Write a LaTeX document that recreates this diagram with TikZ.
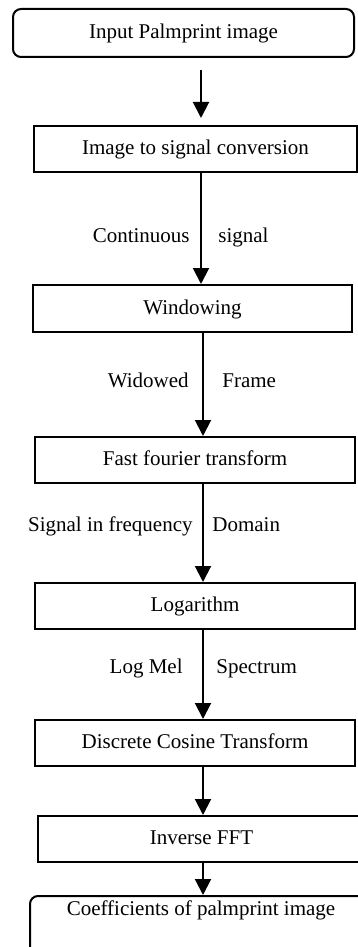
\documentclass[tikz,border=0pt]{standalone}
\usepackage{fontspec}
\setmainfont{Liberation Serif}
\usetikzlibrary{arrows.meta}

\begin{document}
\begin{tikzpicture}[x=0.5pt,y=-0.5pt,font=\fontsize{10.5}{12.6}\selectfont,
        box/.style={draw, line width=1pt, minimum height=23pt, text height=1.6ex, text depth=.4ex, inner sep=0pt},
        rbox/.style={box, rounded corners=4pt},
        flow/.style={line width=1pt, -{Triangle[width=8pt,length=8pt]}},
        lab/.style={inner sep=0pt}]
        \useasboundingbox (0,0) rectangle (358,947);
        \clip (0,0) rectangle (358,947);
        \coordinate (ax1) at (201,0);
        \coordinate (ax2) at (203,0);
        % boxes, top to bottom
        \node[rbox, minimum width=170.5pt, minimum height=24pt] (input) at (183.5,33) {Input Palmprint image};
        \node[box, minimum width=161.5pt] (conv) at (195.5,149) {Image to signal conversion};
        \node[box, minimum width=159.5pt, minimum height=23.5pt] (win) at (192.5,308.5) {Windowing};
        \node[box, minimum width=160pt] (fft) at (195,460) {Fast fourier transform};
        \node[box, minimum width=160pt] (log) at (195,606) {Logarithm};
        \node[box, minimum width=160pt] (dct) at (195,743) {Discrete Cosine Transform};
        \node[box, minimum width=163.5pt] (ifft) at (201.5,839) {Inverse FFT};
        \node[rbox, anchor=north, minimum width=171pt, minimum height=40pt] (coeff) at (201,895) {};
        \node (coefftxt) at (201,910) {Coefficients of palmprint image};
        % arrows
        \draw[flow, shorten <=6pt, shorten >=3.5pt] (input.south -| ax1) -- (conv.north -| ax1);
        \draw[flow] (conv.south -| ax1) -- (win.north -| ax1);
        \draw[flow] (win.south -| ax2) -- (fft.north -| ax2);
        \draw[flow] (fft.south -| ax2) -- (log.north -| ax2);
        \draw[flow] (log.south -| ax2) -- (dct.north -| ax2);
        \draw[flow] (dct.south -| ax2) -- (ifft.north -| ax2);
        \draw[flow] (ifft.south -| ax2) -- (coeff.north -| ax2);
        % labels on both sides of the arrows
        \node[lab, anchor=base east] (l1) at (190,242) {Continuous};
        \node[lab, anchor=base west] (r1) at (218,242) {signal};
        \node[lab, anchor=base east] (l2) at (189,387) {Widowed};
        \node[lab, anchor=base west] (r2) at (222,387) {Frame};
        \node[lab, anchor=base east] (l3) at (193,531) {Signal in frequency};
        \node[lab, anchor=base west] (r3) at (212,531) {Domain};
        \node[lab, anchor=base east] (l4) at (183,673) {Log Mel};
        \node[lab, anchor=base west] (r4) at (216,673) {Spectrum};
\end{tikzpicture}
\end{document}
